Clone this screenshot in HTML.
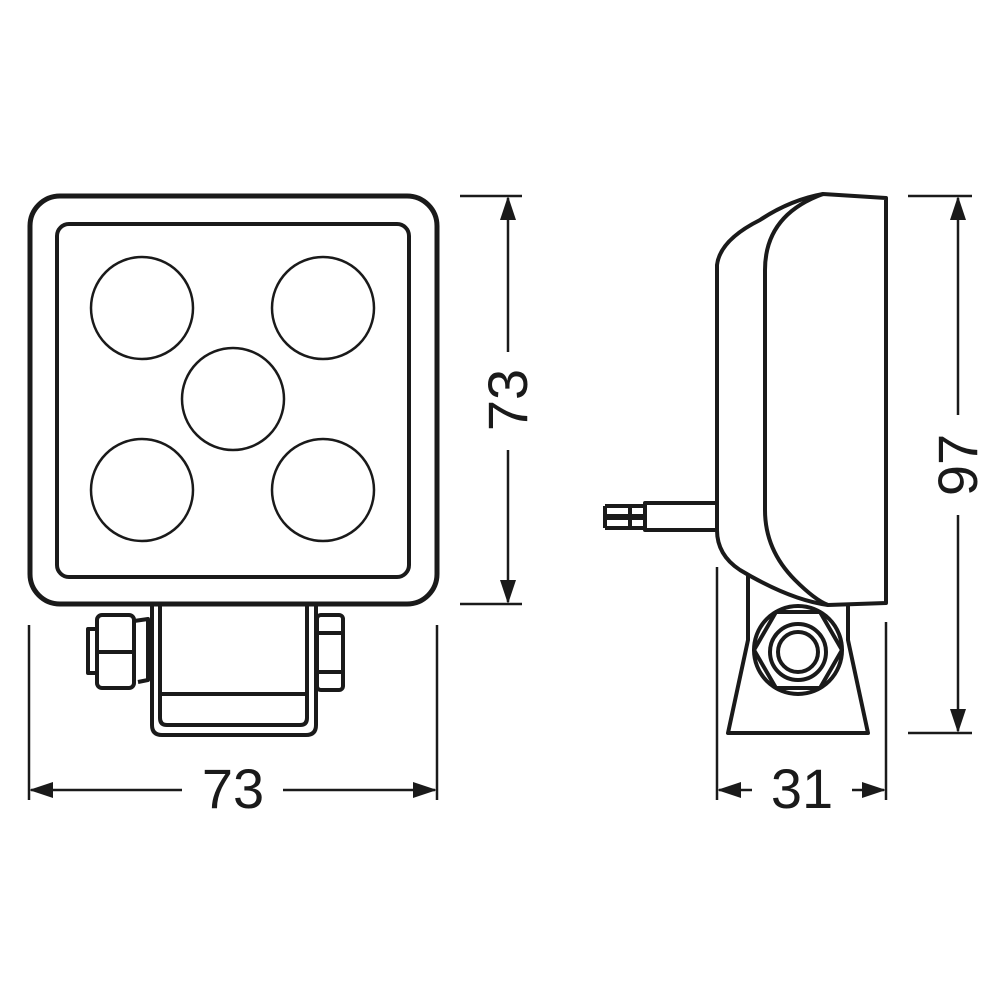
<!DOCTYPE html>
<html><head><style>body{margin:0;background:#fff}svg{display:block}</style></head><body>
<svg width="1000" height="1000" viewBox="0 0 1000 1000" xmlns="http://www.w3.org/2000/svg" fill="none" stroke="#1a1a1a" stroke-linejoin="round">
<!-- front -->
<rect x="30" y="196" width="407" height="408" rx="30" stroke-width="5"/>
<rect x="57" y="224" width="352" height="353" rx="12" stroke-width="4"/>
<g stroke-width="2.5">
<circle cx="142" cy="308" r="51"/><circle cx="323" cy="308" r="51"/>
<circle cx="233" cy="399" r="51"/><circle cx="142" cy="490" r="51"/><circle cx="323" cy="490" r="51"/>
</g>
<!-- bracket -->
<g stroke-width="4">
<path d="M152 606 V725 Q152 735 162 735 H306 Q316 735 316 725 V606"/>
<path d="M160 606 V718 Q160 725 167 725 H300 Q307 725 307 718 V606"/>
<line x1="160" y1="694" x2="307" y2="694"/>
<rect x="97" y="615" width="37" height="73" rx="5"/>
<line x1="97" y1="652" x2="134" y2="652"/>
<rect x="88" y="629" width="9" height="44"/>
<path d="M134 621 L148 619 L148 680 L138 682"/>
<rect x="317" y="615" width="26" height="75" rx="4"/>
<line x1="317" y1="633" x2="343" y2="633"/>
<line x1="317" y1="672" x2="343" y2="672"/>
</g>
<!-- side -->
<g stroke-width="4">
<path d="M717 265 Q720 240 760 220 Q790 200 823 194 L886 198 V603 L828 605 Q790 600 740 570 Q717 555 717 530 Z"/>
<path d="M823 194 Q765 215 765 270 V510 Q765 550 795 580 Q815 600 828 605"/>
<rect x="645" y="503" width="72" height="27"/>
<rect x="630" y="506" width="15" height="10"/><rect x="630" y="518" width="15" height="10"/>
<path d="M605 506 H630 M605 516 H630 M605 518 H630 M605 528 H630 M605 506 V528"/>
<path d="M748 576 V640 L728 733 H868 L848 640 V604"/>
<circle cx="798" cy="650" r="44"/>
<polygon points="776,612 820,612 842,650 820,688 776,688 754,650"/>
<circle cx="798" cy="652" r="28"/>
<circle cx="798" cy="652" r="20"/>
</g>
<!-- dimensions -->
<g stroke-width="2.5">
<line x1="460" y1="196" x2="522" y2="196"/><line x1="460" y1="604" x2="522" y2="604"/>
<line x1="508" y1="198" x2="508" y2="352"/><line x1="508" y1="450" x2="508" y2="602"/>
<line x1="908" y1="196" x2="972" y2="196"/><line x1="908" y1="733" x2="972" y2="733"/>
<line x1="958" y1="198" x2="958" y2="415"/><line x1="958" y1="515" x2="958" y2="731"/>
<line x1="29" y1="625" x2="29" y2="800"/><line x1="437" y1="625" x2="437" y2="800"/>
<line x1="31" y1="790" x2="182" y2="790"/><line x1="283" y1="790" x2="435" y2="790"/>
<line x1="717" y1="567" x2="717" y2="800"/><line x1="886" y1="622" x2="886" y2="800"/>
<line x1="719" y1="790" x2="752" y2="790"/><line x1="852" y1="790" x2="884" y2="790"/>
</g>
<g fill="#1a1a1a" stroke="none">
<polygon points="508,196 500,220 516,220"/><polygon points="508,604 500,580 516,580"/>
<polygon points="958,196 950,220 966,220"/><polygon points="958,733 950,709 966,709"/>
<polygon points="29,790 53,782 53,798"/><polygon points="437,790 413,782 413,798"/>
<polygon points="717,790 741,782 741,798"/><polygon points="886,790 862,782 862,798"/>
<g font-family="Liberation Sans, sans-serif" font-size="56">
<text x="233" y="808" text-anchor="middle">73</text>
<text x="802" y="808" text-anchor="middle">31</text>
<text transform="translate(527,400) rotate(-90)" text-anchor="middle">73</text>
<text transform="translate(977,465) rotate(-90)" text-anchor="middle">97</text>
</g>
</g>
</svg>
</body></html>
